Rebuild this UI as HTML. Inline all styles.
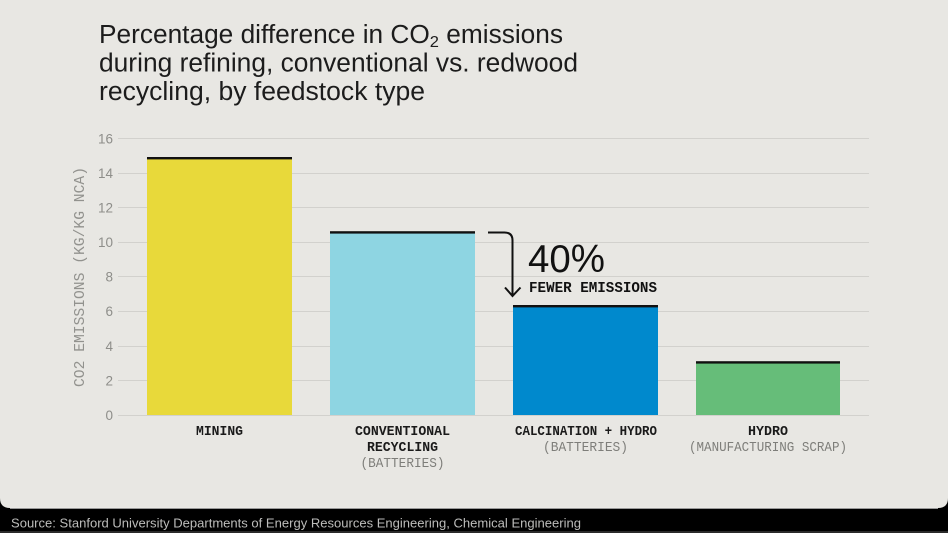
<!DOCTYPE html>
<html>
<head>
<meta charset="utf-8">
<style>
  html,body{margin:0;padding:0;background:#000;}
  body{width:948px;height:533px;overflow:hidden;}
  svg{display:block;}
</style>
</head>
<body>
<svg width="948" height="533" viewBox="0 0 948 533" xmlns="http://www.w3.org/2000/svg">
  <rect x="0" y="0" width="948" height="533" fill="#000"/>
  <path d="M0 0 H948 V498 Q948 508 938 508 H10 Q0 508 0 498 Z" fill="#e8e7e3"/>
  <line x1="10" y1="508.2" x2="938" y2="508.2" stroke="#f4f4f2" stroke-width="0.8"/>
  <line x1="0" y1="532" x2="948" y2="532" stroke="#555" stroke-width="1"/>

  <!-- Title -->
  <g font-family="'Liberation Sans', sans-serif" font-size="25.5" fill="#1c1c1c">
    <text x="99" y="43" textLength="464" lengthAdjust="spacingAndGlyphs">Percentage difference in CO<tspan font-size="16" dy="4">2</tspan><tspan dy="-4"> emissions</tspan></text>
    <text x="99" y="71.5" textLength="479" lengthAdjust="spacingAndGlyphs">during refining, conventional vs. redwood</text>
    <text x="99" y="100" textLength="326" lengthAdjust="spacingAndGlyphs">recycling, by feedstock type</text>
  </g>

  <!-- Gridlines -->
  <g stroke="#d2d1cd" stroke-width="1">
    <line x1="118" y1="138.5" x2="869" y2="138.5"/>
    <line x1="118" y1="173.5" x2="869" y2="173.5"/>
    <line x1="118" y1="207.5" x2="869" y2="207.5"/>
    <line x1="118" y1="242.5" x2="869" y2="242.5"/>
    <line x1="118" y1="276.5" x2="869" y2="276.5"/>
    <line x1="118" y1="311.5" x2="869" y2="311.5"/>
    <line x1="118" y1="346.5" x2="869" y2="346.5"/>
    <line x1="118" y1="380.5" x2="869" y2="380.5"/>
    <line x1="118" y1="415.5" x2="869" y2="415.5"/>
  </g>

  <!-- Tick labels -->
  <g font-family="'Liberation Sans', sans-serif" font-size="13.5" fill="#8e8e8a" text-anchor="end">
    <text x="113" y="143.5">16</text>
    <text x="113" y="178">14</text>
    <text x="113" y="212.5">12</text>
    <text x="113" y="247">10</text>
    <text x="113" y="281.5">8</text>
    <text x="113" y="316">6</text>
    <text x="113" y="351">4</text>
    <text x="113" y="385.5">2</text>
    <text x="113" y="420">0</text>
  </g>

  <!-- Y axis label -->
  <text transform="translate(84,277) rotate(-90)" font-family="'Liberation Mono', monospace" font-size="14.5" fill="#92928e" text-anchor="middle" textLength="220" lengthAdjust="spacingAndGlyphs">CO2 EMISSIONS (KG/KG NCA)</text>

  <!-- Bars -->
  <rect x="147" y="158" width="145" height="257" fill="#e8d93a"/>
  <rect x="147" y="157" width="145" height="2.4" fill="#111"/>

  <rect x="330" y="232" width="145" height="183" fill="#8ed5e2"/>
  <rect x="330" y="231.2" width="145" height="2.4" fill="#111"/>

  <rect x="513" y="306" width="145" height="109" fill="#0089cd"/>
  <rect x="513" y="305" width="145" height="2.4" fill="#111"/>

  <rect x="696" y="362" width="144" height="53" fill="#66bd79"/>
  <rect x="696" y="361.2" width="144" height="2.4" fill="#111"/>

  <!-- Annotation arrow -->
  <path d="M488 232.5 H504.5 Q512.5 232.5 512.5 240.5 V296" fill="none" stroke="#111" stroke-width="2"/>
  <path d="M505 287.5 L512.5 296 L520.5 287.5" fill="none" stroke="#111" stroke-width="2"/>

  <text x="528" y="272" font-family="'Liberation Sans', sans-serif" font-size="39" fill="#111" textLength="77" lengthAdjust="spacingAndGlyphs">40%</text>
  <text x="529" y="292" font-family="'Liberation Mono', monospace" font-weight="bold" font-size="14.5" fill="#111" textLength="128" lengthAdjust="spacingAndGlyphs">FEWER EMISSIONS</text>

  <!-- Category labels -->
  <g font-family="'Liberation Mono', monospace" font-size="14" text-anchor="middle">
    <text x="219.5" y="435" font-weight="bold" fill="#1a1a1a" textLength="47" lengthAdjust="spacingAndGlyphs">MINING</text>

    <text x="402.5" y="435" font-weight="bold" fill="#1a1a1a" textLength="95" lengthAdjust="spacingAndGlyphs">CONVENTIONAL</text>
    <text x="402.5" y="451" font-weight="bold" fill="#1a1a1a" textLength="71" lengthAdjust="spacingAndGlyphs">RECYCLING</text>
    <text x="402.5" y="467" fill="#7e7e7a" textLength="84" lengthAdjust="spacingAndGlyphs">(BATTERIES)</text>

    <text x="586" y="435" font-weight="bold" fill="#1a1a1a" textLength="142" lengthAdjust="spacingAndGlyphs">CALCINATION + HYDRO</text>
    <text x="585.5" y="451" fill="#7e7e7a" textLength="85" lengthAdjust="spacingAndGlyphs">(BATTERIES)</text>

    <text x="768" y="435" font-weight="bold" fill="#1a1a1a" textLength="40" lengthAdjust="spacingAndGlyphs">HYDRO</text>
    <text x="768" y="451" fill="#7e7e7a" textLength="158" lengthAdjust="spacingAndGlyphs">(MANUFACTURING SCRAP)</text>
  </g>

  <!-- Source -->
  <text x="11" y="527.5" font-family="'Liberation Sans', sans-serif" font-size="13" fill="#bdbdbb" textLength="570" lengthAdjust="spacingAndGlyphs">Source: Stanford University Departments of Energy Resources Engineering, Chemical Engineering</text>
</svg>
</body>
</html>
